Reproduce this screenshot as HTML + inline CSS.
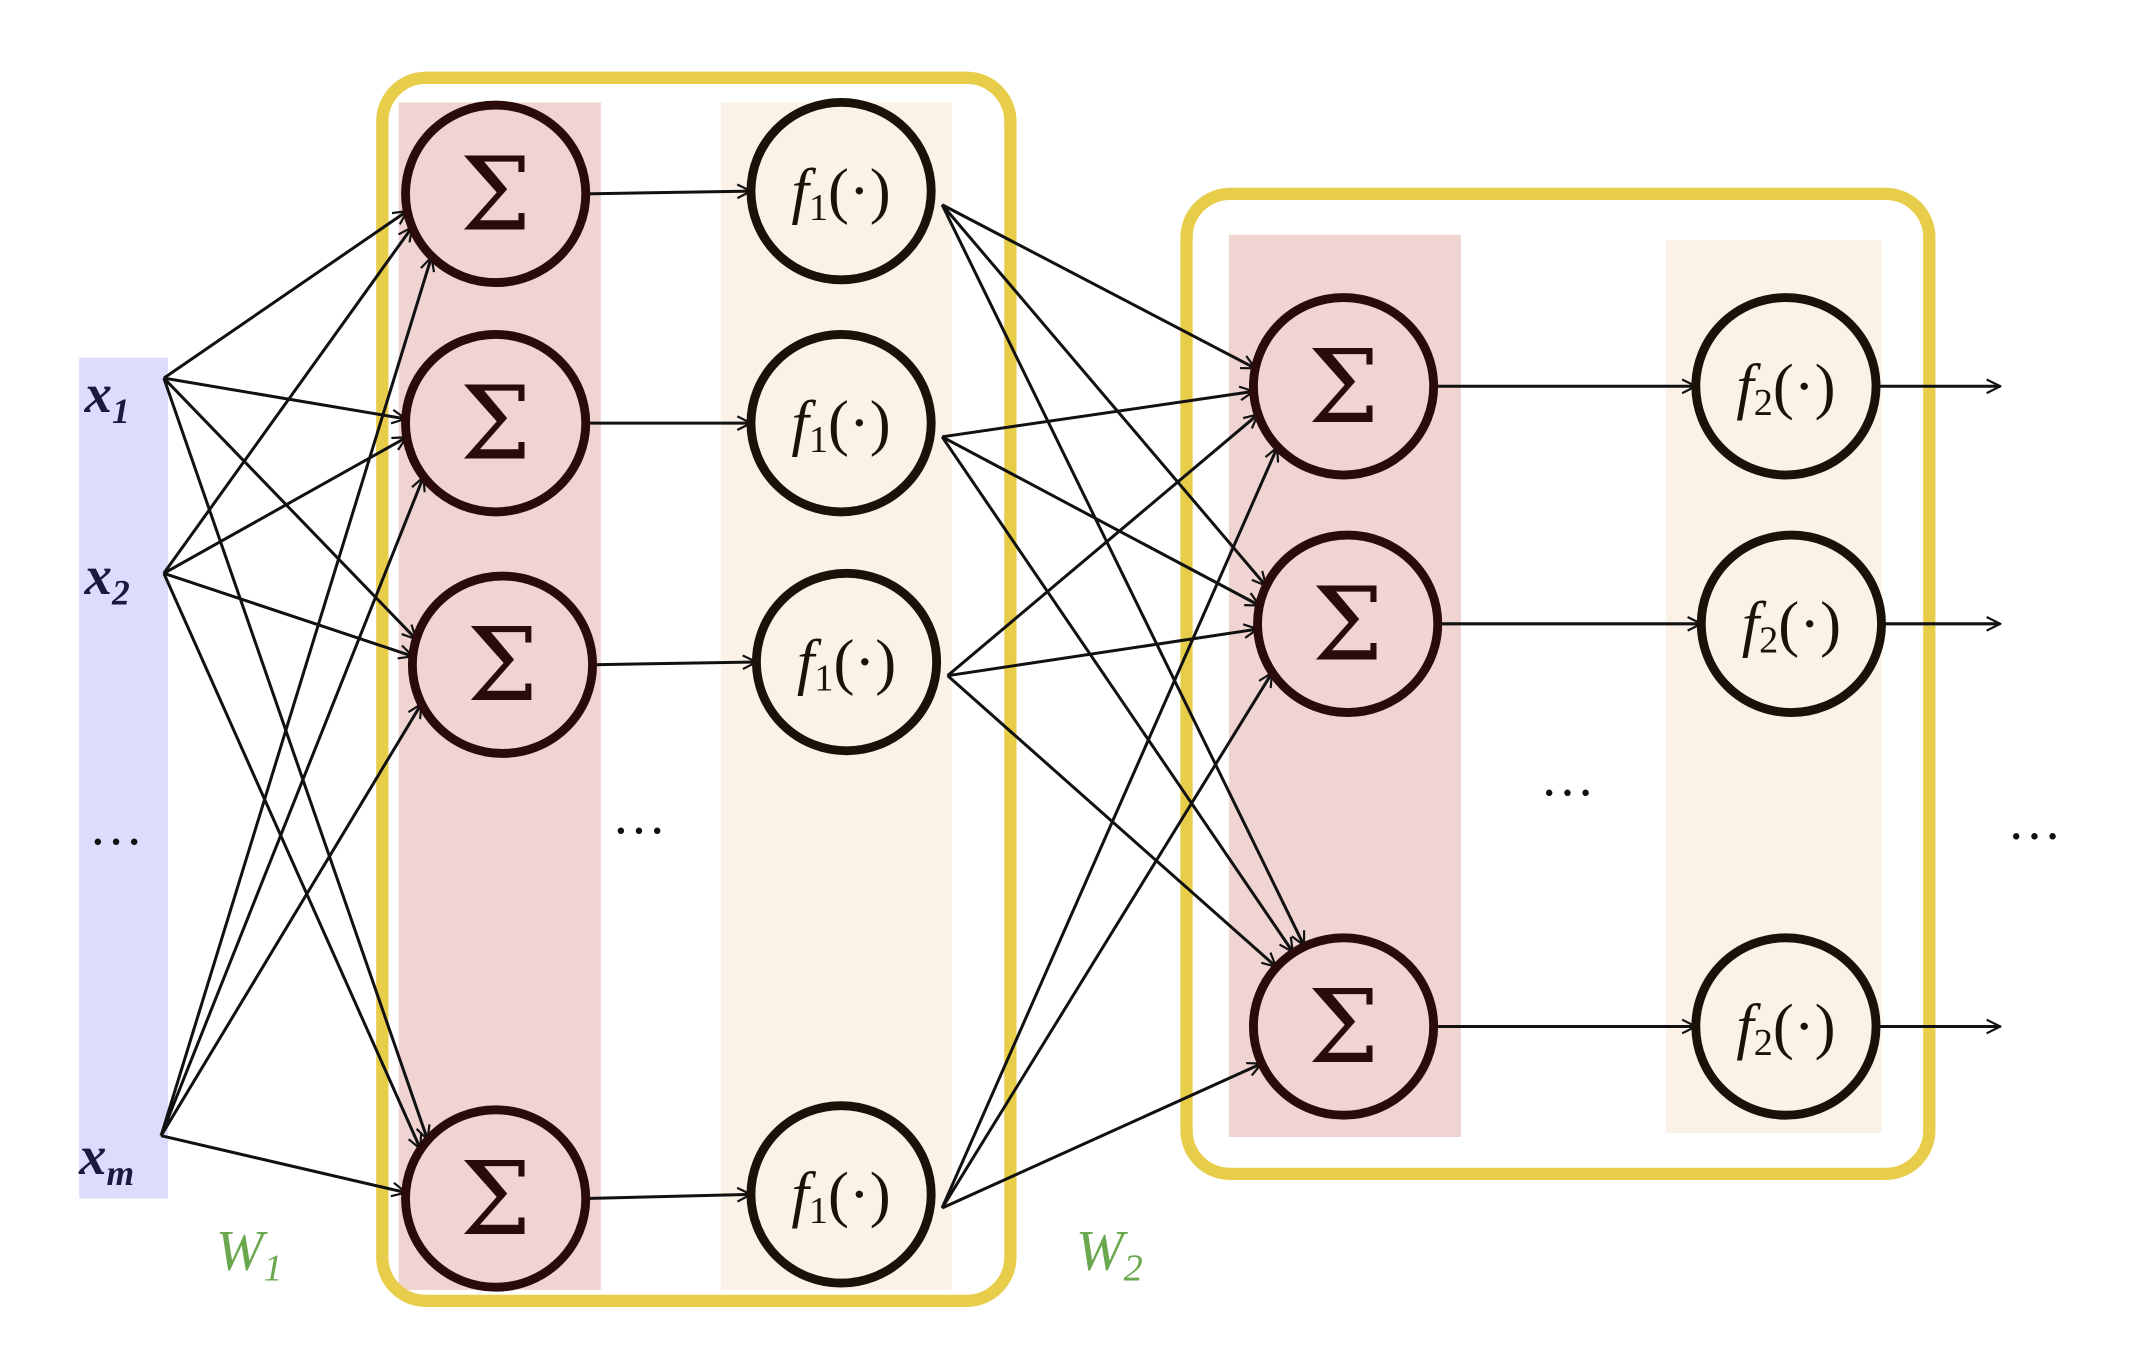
<!DOCTYPE html>
<html><head><meta charset="utf-8"><style>
html,body{margin:0;padding:0;background:#fff;}
svg{display:block}
.s{font-family:"DejaVu Serif","Liberation Serif",serif;font-size:74px;fill:#2a0a0a;text-anchor:middle}
.f{font-family:"Liberation Serif","DejaVu Serif",serif;font-size:46px;fill:#1a1208;text-anchor:middle;font-style:italic}
.x{font-family:"Liberation Serif","DejaVu Serif",serif;font-size:40px;fill:#1a1a40;font-style:italic;font-weight:bold}
.w{font-family:"Liberation Serif","DejaVu Serif",serif;font-size:42px;fill:#6aa84f;font-style:italic}
</style></head><body>
<svg id="g" width="2130" height="1350" viewBox="0 0 1560 989" preserveAspectRatio="none" xmlns="http://www.w3.org/2000/svg">
<defs>
<marker id="a" viewBox="0 0 12 12" refX="11" refY="6" markerWidth="12" markerHeight="12" markerUnits="userSpaceOnUse" orient="auto">
<path d="M1,1 L11,6 L1,11" fill="none" stroke="#111" stroke-width="1.6"/>
</marker>
</defs>
<rect x="58" y="262" width="65" height="616" fill="#dcdcfc"/>
<rect x="292" y="75" width="148" height="870" fill="#f0d4d2"/>
<rect x="528" y="75" width="169" height="870" fill="#fbf1e7"/>
<rect x="900" y="172" width="170" height="661" fill="#f0d4d2"/>
<rect x="1220" y="176" width="158" height="654" fill="#fbf1e7"/>
<rect x="280" y="57" width="460" height="896" rx="32" fill="none" stroke="#e8cd4a" stroke-width="9"/>
<rect x="869" y="142" width="544" height="718" rx="32" fill="none" stroke="#e8cd4a" stroke-width="9"/>
<g id="lines" stroke="#111" stroke-width="2.2" fill="none"></g>
<g id="nodes"></g>
<text class="x" x="62" y="302">x<tspan font-size="26" dy="8">1</tspan></text>
<text class="x" x="62" y="435">x<tspan font-size="26" dy="8">2</tspan></text>
<text class="x" x="58" y="860">x<tspan font-size="26" dy="8">m</tspan></text>
<text x="85" y="630" font-size="40" text-anchor="middle" fill="#111" font-family="Liberation Serif">···</text>
<text x="468" y="622" font-size="40" text-anchor="middle" fill="#111" font-family="Liberation Serif">···</text>
<text x="1148" y="594" font-size="40" text-anchor="middle" fill="#111" font-family="Liberation Serif">···</text>
<text x="1490" y="626" font-size="40" text-anchor="middle" fill="#111" font-family="Liberation Serif">···</text>
<text class="w" x="158" y="930">W<tspan font-size="28" dy="8">1</tspan></text>
<text class="w" x="788" y="930">W<tspan font-size="28" dy="8">2</tspan></text>
</svg>
<script>
var NS="http://www.w3.org/2000/svg";
var L=document.getElementById("lines"),N=document.getElementById("nodes");
function line(x1,y1,x2,y2,arr){var l=document.createElementNS(NS,"line");l.setAttribute("x1",x1);l.setAttribute("y1",y1);l.setAttribute("x2",x2);l.setAttribute("y2",y2);if(arr)l.setAttribute("marker-end","url(#a)");L.appendChild(l);}
var R=66;
var S1=[[363,142],[363,310],[368,487],[363,878]];
var F1=[[616,140],[616,310],[620,485],[616,875]];
var S2=[[984,283],[987,457],[984,752]];
var F2=[[1308,283],[1312,457],[1308,752]];
var X=[[120,277],[120,420],[118,832]];
function toward(p,c,k){var dx=c[0]-p[0],dy=(c[1]-p[1])*k,d=Math.hypot(dx,dy);return [c[0]-dx/d*R,c[1]-dy/d*R];}
X.forEach(function(p){S1.forEach(function(c){var e=toward(p,c,0.35);line(p[0],p[1],e[0],e[1],true);});});
F1.forEach(function(c){var p=[c[0]+R+8,c[1]+10];S2.forEach(function(s,j){var e=toward(p,s,j==2?1:0.45);line(p[0],p[1],e[0],e[1],true);});});
for(var i=0;i<4;i++)line(S1[i][0]+R,S1[i][1],F1[i][0]-R,F1[i][1],true);
for(i=0;i<3;i++){line(S2[i][0]+R,S2[i][1],F2[i][0]-R,F2[i][1],true);line(F2[i][0]+R,F2[i][1],1465,F2[i][1],true);}
function node(c,fill,stroke,txt,cls){var e=document.createElementNS(NS,"ellipse");e.setAttribute("cx",c[0]);e.setAttribute("cy",c[1]);e.setAttribute("rx",R);e.setAttribute("ry",R-1);e.setAttribute("fill",fill);e.setAttribute("stroke",stroke);e.setAttribute("stroke-width","6.5");N.appendChild(e);
var t=document.createElementNS(NS,"text");t.setAttribute("x",c[0]);t.setAttribute("y",c[1]+(cls=="s"?26:15));t.setAttribute("class",cls);t.innerHTML=txt;N.appendChild(t);}
S1.forEach(function(c){node(c,"#f0d4d2","#2a0a0a","Σ","s");});
S2.forEach(function(c){node(c,"#f0d4d2","#2a0a0a","Σ","s");});
F1.forEach(function(c){node(c,"#fbf1e7","#1a1208",'f<tspan font-style="normal" font-size="28" dy="6">1</tspan><tspan font-style="normal" dy="-6">(·)</tspan>',"f");});
F2.forEach(function(c){node(c,"#fbf1e7","#1a1208",'f<tspan font-style="normal" font-size="28" dy="6">2</tspan><tspan font-style="normal" dy="-6">(·)</tspan>',"f");});
</script>
</body></html>
